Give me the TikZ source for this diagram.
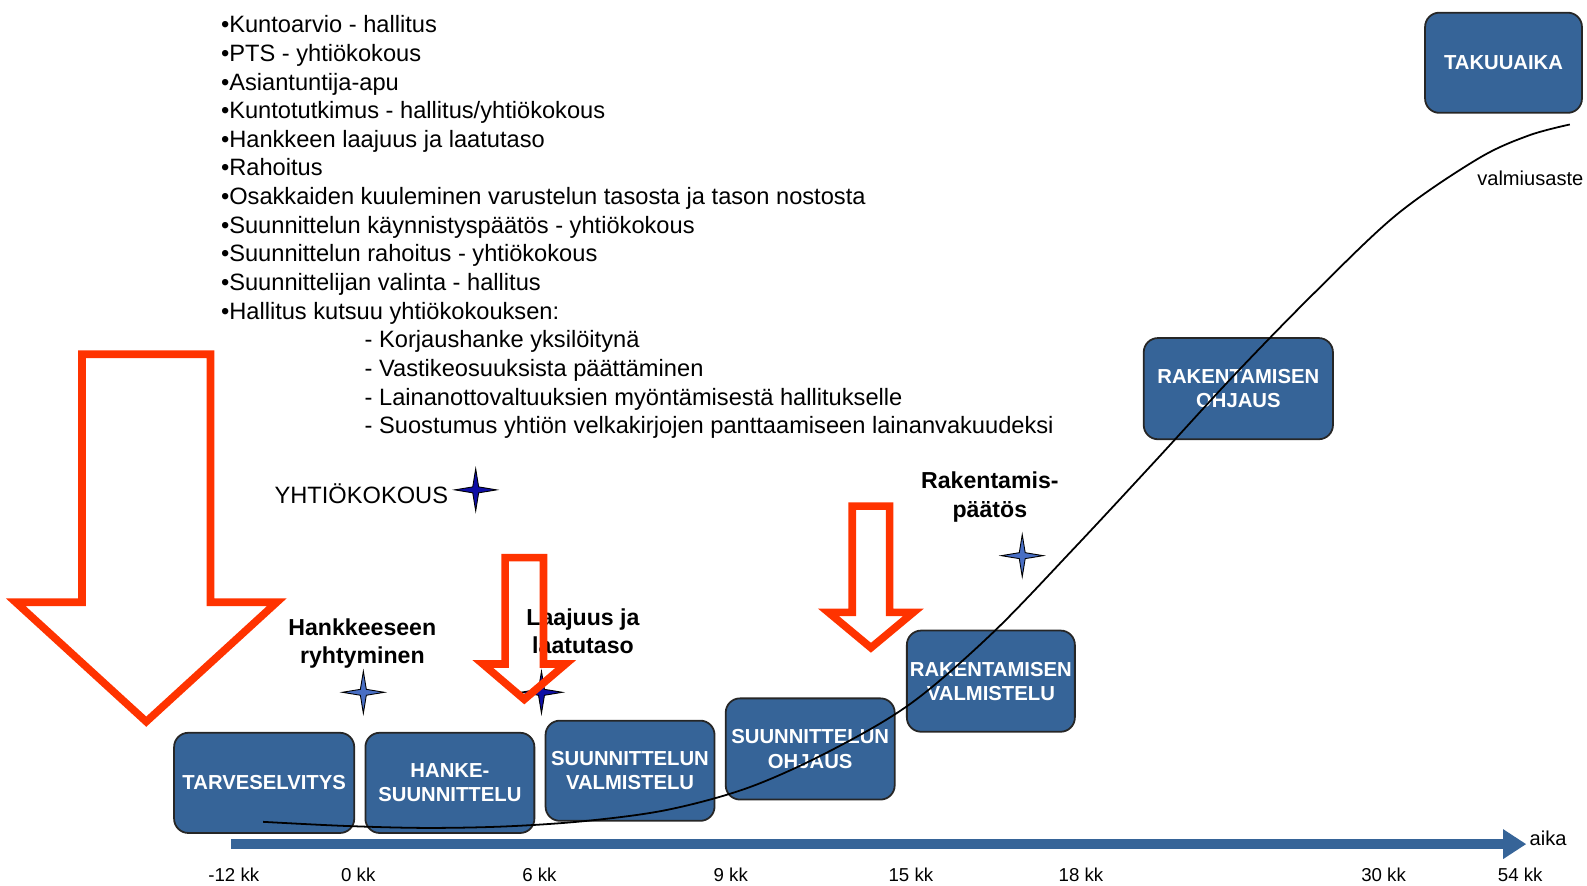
\documentclass[tikz,border=0pt]{standalone}
\usepackage{fontspec}
\setmainfont{Liberation Sans}
\usetikzlibrary{shapes.geometric,arrows.meta}
\definecolor{boxblue}{RGB}{54,100,152}
\definecolor{arrowred}{RGB}{255,51,0}
\definecolor{stardark}{RGB}{14,14,165}
\definecolor{starlight}{RGB}{72,110,196}

\begin{document}
\begin{tikzpicture}[x=0.02cm,y=-0.02cm,
    phase/.style={rectangle,rounded corners=8pt,draw=black!85,line width=1pt,fill=boxblue,text=white,
      font=\fontsize{11.4}{13.6}\selectfont\bfseries,align=center,inner sep=0pt},
    milestone/.style={star,star points=4,star point ratio=5,minimum size=0.83cm,inner sep=0pt,draw=black,line width=0.5pt},
    listtext/.style={font=\fontsize{13.3}{16}\selectfont,anchor=base west,inner sep=0pt},
    steplabel/.style={font=\fontsize{13}{15.9}\selectfont\bfseries,align=center},
    ticklabel/.style={font=\fontsize{10.5}{12}\selectfont},
    redarrow/.style={draw=arrowred,line width=0.15cm,line join=miter}]
    \useasboundingbox (0,0) rectangle (1568,875);

    % list of tasks
    \foreach \txt [count=\i from 0] in {Kuntoarvio - hallitus,PTS - yhtiökokous,Asiantuntija-apu,
        Kuntotutkimus - hallitus/yhtiökokous,Hankkeen laajuus ja laatutaso,Rahoitus,
        Osakkaiden kuuleminen varustelun tasosta ja tason nostosta,
        Suunnittelun käynnistyspäätös - yhtiökokous,Suunnittelun rahoitus - yhtiökokous,
        Suunnittelijan valinta -  hallitus,Hallitus kutsuu yhtiökokouksen:}
        \node[listtext] (b\i) at (218,{32.4+28.29*\i}) {•\txt};
    \foreach \txt [count=\i from 11] in {Korjaushanke yksilöitynä,Vastikeosuuksista päättäminen,
        Lainanottovaltuuksien myöntämisestä hallitukselle,
        Suostumus yhtiön velkakirjojen panttaamiseen lainanvakuudeksi}
        \node[listtext] (b\i) at (360,{32.4+28.29*\i}) {- \txt};

    % milestones
    \node[font=\fontsize{13.3}{16}\selectfont] (yk) at (357,488) {YHTIÖKOKOUS};
    \node[milestone,fill=stardark] (ykstar) at (470,484) {};
    \node[steplabel] (hank) at (358,636) {Hankkeeseen\\ryhtyminen};
    \node[milestone,fill=starlight] (hankstar) at (359,684) {};
    \node[steplabel] (laaj) at (576,624) {Laajuus ja\\laatutaso};
    \node[milestone,fill=stardark] (laajstar) at (535,684) {};
    \node[steplabel] (rak) at (978,491) {Rakentamis-\\päätös};
    \node[milestone,fill=starlight] (rakstar) at (1010,549) {};

    % phases
    \node[phase,minimum width=3.56cm,minimum height=1.98cm] (tarve) at (261,773.5) {TARVESELVITYS};
    \node[phase,minimum width=3.34cm,minimum height=1.98cm] (hanke) at (444.5,773.5) {HANKE-\\SUUNNITTELU};
    \node[phase,minimum width=3.34cm,minimum height=1.98cm] (suval) at (622.5,761.5) {SUUNNITTELUN\\VALMISTELU};
    \node[phase,minimum width=3.34cm,minimum height=2cm] (suohj) at (800.5,740) {SUUNNITTELUN\\OHJAUS};
    \node[phase,minimum width=3.32cm,minimum height=2cm] (raval) at (979,673) {RAKENTAMISEN\\VALMISTELU};
    \node[phase,minimum width=3.74cm,minimum height=2cm] (raohj) at (1223.5,384) {RAKENTAMISEN\\OHJAUS};
    \node[phase,minimum width=3.1cm,minimum height=1.98cm] (takuu) at (1485.5,62) {TAKUUAIKA};

    % valmiusaste
    \draw[line width=1pt] plot[smooth,tension=0.55] coordinates {(260,812) (340,816) (420,818) (500,816.5)
        (580,811) (660,800) (740,778) (820,742) (900,695) (980,626) (1060,543) (1140,457) (1220,370)
        (1300,288) (1380,212) (1460,157) (1510,134) (1551,123)};
    \node[font=\fontsize{11.3}{13}\selectfont] (valm) at (1512,176) {valmiusaste};

    % red arrows
    \draw[redarrow] (81,350) -- (208,350) -- (208,595) -- (273.5,595) -- (144.5,713) -- (15.5,595) -- (81,595) -- cycle;
    \draw[redarrow] (499,551) -- (537,551) -- (537,656) -- (559,656) -- (518,691) -- (477,656) -- (499,656) -- cycle;
    \draw[redarrow] (842,500) -- (879,500) -- (879,605) -- (902.5,605) -- (860.5,640) -- (818.5,605) -- (842,605) -- cycle;

    % time axis
    \coordinate (axstart) at (228,834);
    \coordinate (axend) at (1508,834);
    \draw[boxblue,line width=0.2cm,-{Triangle[length=0.46cm,width=0.56cm]}] (axstart) -- (axend);
    \node[font=\fontsize{11.3}{13}\selectfont,anchor=west,inner sep=0pt] (aika) at (1511,828) {aika};
    \foreach \lab/\xx [count=\k] in {-12 kk/231,0 kk/354,6 kk/533,9 kk/722,15 kk/900,18 kk/1068,30 kk/1367,54 kk/1502}
        \node[ticklabel] (tk\k) at (\xx,864) {\lab};
\end{tikzpicture}
\end{document}
